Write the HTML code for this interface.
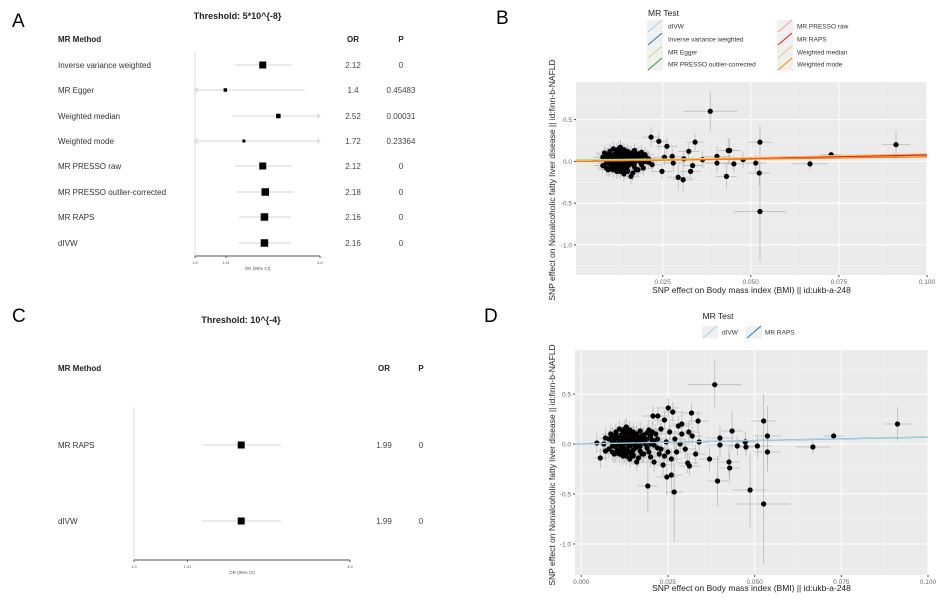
<!DOCTYPE html>
<html><head><meta charset="utf-8"><style>
body{margin:0;background:#fff}svg{display:block;font-family:"Liberation Sans",sans-serif}
</style></head><body>
<svg id="s" width="936" height="604" viewBox="0 0 936 604">
<text x="12" y="27" font-size="19">A</text>
<text x="496" y="24" font-size="19">B</text>
<text x="12" y="322" font-size="19">C</text>
<text x="484" y="322" font-size="19">D</text>
<g id="fa"></g>
<g id="fc"></g>
<g id="sb"></g>
<g id="sd"></g>
</svg>
<script>
// ---------- Forest A data ----------
const methodsA = ["Inverse variance weighted","MR Egger","Weighted median","Weighted mode","MR PRESSO raw","MR PRESSO outlier-corrected","MR RAPS","dIVW"];
const orA = [2.12,1.4,2.52,1.72,2.12,2.18,2.16,2.16];
const loA = [1.56,0.9,1.52,0.9,1.56,1.59,1.63,1.62];
const hiA = [2.93,3.38,4.5,4.5,2.93,2.98,2.90,2.90];
const pA = ["0","0.45483","0.00031","0.23364","0","0","0","0"];
const sizeA = [7,3.5,4.5,3,7,7.5,7.5,7.5];
// ---------- Forest C data ----------
const methodsC = ["MR RAPS","dIVW"];
const orC = [1.99,1.99];
const loC = [1.55,1.55];
const hiC = [2.57,2.57];
const pC = ["0","0"];
const sizeC = [7,7];
const forestTicks = [1.0,1.41,4.0];
const forestTickLabels = ["1.0","1.41","4.0"];
// ---------- Scatter data ----------
const clusterPoints = [[8,0.05],[8,-0.05],[9,0.08],[9,0.02],[9,-0.08],[10,0.1],[10,0.12],[10,-0.03],[10,0.06],[11,-0.1],[11,0.15],[11,0.0],[11,-0.06],[12,0.09],[12,-0.12],[12,0.04],[12,-0.02],[12,0.13],[13,-0.09],[13,0.07],[13,0.16],[13,0.01],[13,-0.05],[13,0.11],[14,-0.15],[14,0.06],[14,0.03],[14,-0.08],[14,0.14],[15,-0.11],[15,0.09],[15,0.0],[15,0.12],[15,-0.06],[16,0.05],[16,-0.03],[16,0.1],[16,-0.18],[17,0.04],[17,-0.07],[17,0.13],[18,0.02],[18,-0.1],[18,0.06],[19,-0.04],[19,0.11],[20,0.0],[20,0.08],[21,-0.01],[21,0.03],[22,-0.04],[8.5,0.1],[9.5,-0.1],[10.5,0.06],[11.5,-0.02],[12.5,0.15],[13.5,-0.07],[14.5,0.03],[15.5,0.02],[16.5,-0.14],[17.5,0.08],[12,-0.05],[13,0.17],[14,0.12],[15,-0.12],[11,0.0],[16,0.1],[10,-0.09],[13,0.04],[14,-0.02],[12,0.07],[15,0.05],[11,0.03],[13,-0.12],[14,0.09],[12,-0.08],[10,0.0],[16,0.02],[17,-0.02],[9,-0.02],[18,0.09],[19,0.05],[11.5,0.09],[13.5,0.0],[15.5,-0.04],[9.5,0.04],[10.5,-0.06],[12.5,-0.1],[14.5,-0.11],[16.5,0.07],[17.5,-0.1],[18.5,0.0],[19.5,-0.08],[20.5,0.04]];
const outliersB = [[38.5,0.6,7.7,0.24],[21.7,0.29,2.5,0.12],[23.9,0.24,2.5,0.1],[52.6,0.23,3.5,0.2],[91.2,0.2,4.0,0.17],[34.2,0.23,2.5,0.1],[43.6,0.13,3,0.15],[44.0,0.13,3,0.15],[40.4,0.06,4,0.12],[40.4,-0.02,4,0.12],[45.2,-0.03,3,0.1],[47.8,0.02,3,0.1],[51.4,-0.02,3,0.1],[66.8,-0.03,5,0.07],[72.8,0.08,3,0.04],[52.4,-0.14,3,0.15],[43.1,-0.18,3,0.15],[52.6,-0.6,7.5,0.6],[29.4,-0.19,3,0.15],[30.8,-0.22,3,0.15],[32.9,-0.12,3,0.1],[36.3,0.02,3,0.1],[32.4,0.12,3,0.1],[26.2,0.18,3,0.1],[27.7,0.06,3,0.1],[28.0,-0.02,3,0.1],[24.8,-0.12,3,0.1],[25.5,0.05,3,0.1],[31,0.03,3,0.1],[33.5,-0.05,3,0.1]];
const outliersD = [[38.5,0.593,7.7,0.24],[91.2,0.2,4,0.17],[19.2,-0.42,3,0.27],[26.8,-0.48,2.5,0.5],[26.0,-0.31,3,0.2],[24.7,-0.33,3,0.2],[39.3,-0.37,3,0.25],[48.7,-0.46,5,0.37],[52.6,-0.6,7.5,0.6],[52.6,0.23,3.5,0.27],[53.7,0.08,4,0.3],[53.7,-0.08,4,0.2],[50.8,-0.02,4,0.12],[66.8,-0.03,5,0.07],[72.8,0.08,3,0.04],[42.6,-0.18,3,0.15],[42.8,-0.24,3,0.15],[37.0,-0.15,3,0.12],[40.0,0.06,4,0.12],[40.0,-0.01,4,0.12],[43.5,0.13,3,0.2],[45.0,-0.02,3,0.1],[47.3,0.02,3,0.1],[47.5,-0.03,3,0.1],[25.1,0.36,3,0.1],[31.8,0.31,3,0.1],[20.7,0.28,3,0.1],[22.1,0.28,3,0.1],[33.7,0.23,3,0.1],[26.4,0.32,3,0.1],[24.0,0.24,3,0.1],[30.7,-0.19,3,0.1],[31.2,-0.22,3,0.1],[23.6,-0.21,3,0.1],[28,0.18,3,0.1],[29,0.1,3,0.1],[30,-0.05,3,0.1],[27,0.05,3,0.1],[32,0.08,3,0.1],[33,-0.1,3,0.1],[25,-0.08,3,0.1],[5.5,-0.14,2,0.1],[4.5,0.01,2,0.1],[21,-0.18,3,0.1],[23,0.15,3,0.1],[26,-0.15,3,0.1],[29,0.2,3,0.1],[31,0.12,3,0.1],[34,0.02,3,0.1],[22.5,-0.1,3,0.1],[20.5,0.12,3,0.1],[24.5,0.02,3,0.1],[7,0.06,2,0.1],[7,-0.07,2,0.1],[6.5,0.0,2,0.1],[22,0.05,3,0.1],[23,-0.05,3,0.1],[21.5,0.1,3,0.1],[24,-0.12,3,0.1],[25.5,0.12,3,0.1],[27.5,-0.08,3,0.1],[19.5,0.14,3,0.1],[20,-0.13,3,0.1],[28.5,0.0,3,0.1]];
const methodsB = ["dIVW","Inverse variance weighted","MR Egger","MR PRESSO outlier-corrected","MR PRESSO raw","MR RAPS","Weighted median","Weighted mode"];
const slopesB = [0.77,0.75,0.34,0.78,0.75,0.77,0.92,0.54];
const interceptsB = [0,0,0.02,0,0,0,0,0];
const colorsB = ["#a6cee3","#1f78b4","#b2df8a","#33a02c","#fb9a99","#e31a1c","#fdbf6f","#ff7f00"];
const methodsD = ["dIVW","MR RAPS"];
const slopesD = [0.69,0.69];
const interceptsD = [0,0];
const colorsD = ["#a6cee3","#1f78b4"];
const xTickVals = [0,0.025,0.05,0.075,0.1];
const xTickLabels = ["0.000","0.025","0.050","0.075","0.100"];
const yTickVals = [0.5,0,-0.5,-1.0];
const yTickLabels = ["0.5","0.0","-0.5","-1.0"];

const NS="http://www.w3.org/2000/svg";
function mk(p,tag,attrs,txt){const e=document.createElementNS(NS,tag);for(const k in attrs)e.setAttribute(k,attrs[k]);if(txt!==undefined)e.textContent=txt;p.appendChild(e);return e;}

function forest(g,cfg){
  const {methods,or,lo,hi,p,size,x0,x1,axisY,top,rows,title,titleY,headY,orX,pX}=cfg;
  const sx=v=>x0+(Math.log2(v)/2)*(x1-x0);
  let t=mk(g,'text',{x:(x0+x1)/2+(cfg.tdx||0),y:titleY,'font-size':9,'font-weight':'bold','text-anchor':'middle',fill:'#222'},title);
  
  
  const hdr=[["MR Method",58,'start'],["OR",orX,'middle'],["P",pX,'middle']];
  hdr.forEach(h=>{const e=mk(g,'text',{x:h[1],y:headY,'font-size':8,'font-weight':'bold','text-anchor':h[2],fill:'#222'},h[0]);
    
    });
  let v=mk(g,'line',{x1:x0,x2:x0,y1:top,y2:axisY,stroke:'#ddd','stroke-width':1});
  
  
  let ax=mk(g,'line',{x1:x0,x2:x1,y1:axisY,y2:axisY,stroke:'#555','stroke-width':1});
  
  
  forestTicks.forEach((tv,i)=>{mk(g,'line',{x1:sx(tv),x2:sx(tv),y1:axisY,y2:axisY+2,stroke:'#555'});
    const e=mk(g,'text',{x:sx(tv),y:axisY+8,'font-size':4,'text-anchor':'middle',fill:'#555'},forestTickLabels[i]);
    
    });
  const xl=mk(g,'text',{x:sx(2),y:axisY+14,'font-size':4.5,'text-anchor':'middle',fill:'#555'},'OR (95% CI)');
  
  
  methods.forEach((m,i)=>{
    const y=rows[i];
    const lab=mk(g,'text',{x:58,y:y+3,'font-size':8,fill:'#333'},m);
    
    
    const a=Math.max(x0,sx(lo[i])),b=Math.min(x1,sx(hi[i]));
    const ci=mk(g,'line',{x1:a,x2:b,y1:y,y2:y,stroke:'#d6d6d6','stroke-width':1});
    
    
    if(lo[i]<1) mk(g,'path',{d:`M${x0+3},${y-2.5}L${x0},${y}L${x0+3},${y+2.5}`,fill:'none',stroke:'#d6d6d6'});
    if(hi[i]>4) mk(g,'path',{d:`M${x1-3},${y-2.5}L${x1},${y}L${x1-3},${y+2.5}`,fill:'none',stroke:'#d6d6d6'});
    const s=size[i];
    const r=mk(g,'rect',{x:sx(or[i])-s/2,y:y-s/2,width:s,height:s,fill:'#000'});
    
    
    const o=mk(g,'text',{x:orX,y:y+3,'font-size':8,'text-anchor':'middle',fill:'#444'},String(or[i]));
    
    
    const pv=mk(g,'text',{x:pX,y:y+3,'font-size':8,'text-anchor':'middle',fill:'#444'},p[i]);
    
    
  });
}
forest(document.getElementById('fa'),{methods:methodsA,or:orA,lo:loA,hi:hiA,p:pA,size:sizeA,x0:195,x1:320,axisY:256,top:52,rows:[65,90,116,141,166,192,217,243],title:"Threshold: 5*10^{-8}",titleY:19,tdx:-20,headY:42,orX:353,pX:401});
forest(document.getElementById('fc'),{methods:methodsC,or:orC,lo:loC,hi:hiC,p:pC,size:sizeC,x0:134,x1:350,axisY:560,top:407,rows:[445,521],title:"Threshold: 10^{-4}",titleY:323,tdx:-1,headY:371,orX:384,pX:421});

function scatter(g,cfg){
  const {L,R,T,B,xd,yd,pts,lines,slopes,ints,cols,legend}=cfg;
  const sx=v=>L+(v-xd[0])/(xd[1]-xd[0])*(R-L);
  const sy=v=>T+(yd[1]-v)/(yd[1]-yd[0])*(B-T);
  const bg=mk(g,'rect',{x:L,y:T,width:R-L,height:B-T,fill:'#ebebeb'});
  
  
  const clip='c'+cfg.id;
  const cp=mk(g,'clipPath',{id:clip});mk(cp,'rect',{x:L,y:T,width:R-L,height:B-T});
  const gg=mk(g,'g',{'clip-path':`url(#${clip})`});
  for(let v=-0.0125;v<=0.11;v+=0.025){mk(gg,'line',{x1:sx(v),x2:sx(v),y1:T,y2:B,stroke:'#f5f5f5','stroke-width':0.5});}
  for(let v=-1.25;v<=1;v+=0.5){mk(gg,'line',{x1:L,x2:R,y1:sy(v),y2:sy(v),stroke:'#f5f5f5','stroke-width':0.5});}
  xTickVals.forEach(v=>mk(gg,'line',{x1:sx(v),x2:sx(v),y1:T,y2:B,stroke:'#fff','stroke-width':1}));
  yTickVals.forEach(v=>mk(gg,'line',{x1:L,x2:R,y1:sy(v),y2:sy(v),stroke:'#fff','stroke-width':1}));
  xTickVals.forEach((v,i)=>{if(sx(v)<L-1)return;mk(g,'line',{x1:sx(v),x2:sx(v),y1:B,y2:B+2,stroke:'#444'});
    const e=mk(g,'text',{x:sx(v),y:B+9,'font-size':6.5,'text-anchor':'middle',fill:'#666'},xTickLabels[i]);
    
    });
  yTickVals.forEach((v,i)=>{mk(g,'line',{x1:L-2,x2:L,y1:sy(v),y2:sy(v),stroke:'#444'});
    const e=mk(g,'text',{x:L-4,y:sy(v)+2.5,'font-size':6.5,'text-anchor':'end',fill:'#666'},yTickLabels[i]);
    
    });
  const all=clusterPoints.map(p=>[p[0]/1000,p[1],0.0025,0.09]).concat(pts.map(p=>[p[0]/1000,p[1],p[2]/1000,p[3]]));
  all.forEach(p=>{mk(gg,'line',{x1:sx(p[0]-p[2]),x2:sx(p[0]+p[2]),y1:sy(p[1]),y2:sy(p[1]),stroke:'#bbb','stroke-width':0.8});
    mk(gg,'line',{x1:sx(p[0]),x2:sx(p[0]),y1:sy(p[1]-p[3]),y2:sy(p[1]+p[3]),stroke:'#bbb','stroke-width':0.8});});
  all.forEach(p=>{const c=mk(gg,'circle',{cx:sx(p[0]),cy:sy(p[1]),r:2.6,fill:'#000'});
    
    });
  const order=lines.map((m,i)=>i);
  if(cfg.reverse) order.reverse();
  order.forEach(i=>{const l=mk(gg,'line',{x1:sx(xd[0]),x2:sx(xd[1]),y1:sy(ints[i]+slopes[i]*xd[0]),y2:sy(ints[i]+slopes[i]*xd[1]),stroke:cols[i],'stroke-width':1.2});
    
    });
  const xt=mk(g,'text',{x:(L+R)/2,y:cfg.xtY,'font-size':8.5,'text-anchor':'middle',fill:'#222'},'SNP effect on Body mass index (BMI) || id:ukb-a-248');
  
  
  const yt=mk(g,'text',{x:0,y:0,'font-size':8.5,'text-anchor':'middle',fill:'#222',transform:`translate(555,${cfg.ytY}) rotate(-90)`},'SNP effect on Nonalcoholic fatty liver disease || id:finn-b-NAFLD');
  
  
  const lt=mk(g,'text',{x:legend.tx,y:legend.ty,'font-size':8.5,'text-anchor':legend.anchor,fill:'#222'},'MR Test');
  
  
  lines.forEach((m,i)=>{const [kx,ky,txx]=legend.pos[i];
    const k=mk(g,'g',{});
    
    
    mk(k,'rect',{x:kx,y:ky-6,width:16,height:12.5,fill:'#f0f0f0'});
    mk(k,'line',{x1:kx+1,y1:ky+6,x2:kx+15,y2:ky-6,stroke:cols[i],'stroke-width':1});
    mk(k,'text',{x:txx,y:ky+2.5,'font-size':6.5,fill:'#333'},m);});
}
scatter(document.getElementById('sb'),{id:'b',L:576,R:927,T:82,B:275,xd:[0.0004,0.1],yd:[-1.36,0.95],pts:outliersB,lines:methodsB,slopes:slopesB,ints:interceptsB,cols:colorsB,xtY:293,ytY:180,
 legend:{tx:648,ty:16,anchor:'start',pos:[[647,26,668],[647,39,668],[647,52,668],[647,64,668],[777,26,797],[777,39,797],[777,52,797],[777,64,797]]}});
scatter(document.getElementById('sd'),{id:'d',L:575,R:928,T:350,B:575,xd:[-0.0018,0.1],yd:[-1.31,0.94],pts:outliersD,lines:methodsD,slopes:slopesD,ints:interceptsD,cols:colorsD,xtY:591,ytY:465,reverse:true,
 legend:{tx:718,ty:319,anchor:'middle',pos:[[702,332,722],[746,332,765]]}});
</script>
</body></html>
